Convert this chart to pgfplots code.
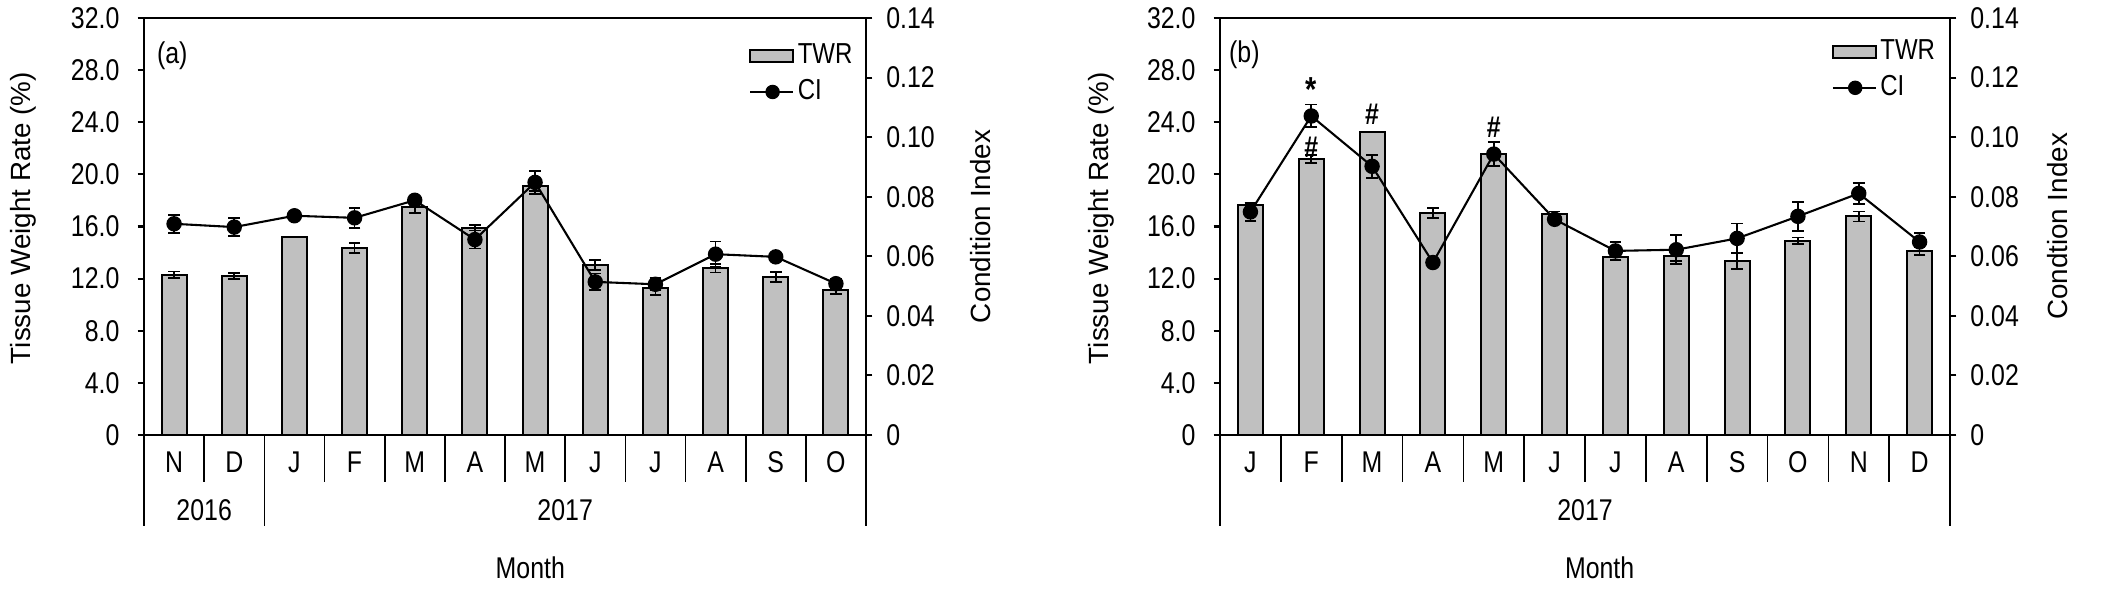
\documentclass[border=0pt]{standalone}
\usepackage{fontspec}
\setmainfont{Liberation Sans}[FakeStretch=0.83]
\newfontfamily\rotfont{Liberation Sans}
\usepackage{pgfplots}
\usepackage{pgfplotstable}
\pgfplotsset{compat=1.18}

\definecolor{barfill}{RGB}{192,192,192}
\newcommand{\fs}{\fontsize{10.8}{12}\selectfont}
\newcommand{\lfs}{\fontsize{10.4}{12}\selectfont}

\pgfplotstableread{
x twr te ci ce
0 12.30 0.25 0.0709 0.0030
1 12.20 0.25 0.0698 0.0030
2 15.20 0.00 0.0736 0.0015
3 14.36 0.38 0.0729 0.0033
4 17.46 0.40 0.0788 0.0012
5 15.90 0.20 0.0656 0.0030
6 19.12 0.40 0.0848 0.0039
7 13.06 0.38 0.0514 0.0028
8 11.26 0.50 0.0506 0.0020
9 12.80 0.32 0.0607 0.0043
10 12.11 0.38 0.0598 0.0012
11 11.16 0.33 0.0508 0.0015
}\dataA

\pgfplotstableread{
x twr te ci ce
0 17.64 0.20 0.0749 0.0030
1 21.17 0.30 0.1071 0.0038
2 23.22 0.00 0.0902 0.0039
3 17.02 0.38 0.0579 0.0000
4 21.53 0.30 0.0943 0.0041
5 16.95 0.20 0.0724 0.0010
6 13.67 0.28 0.0618 0.0030
7 13.75 0.40 0.0622 0.0049
8 13.34 0.60 0.0660 0.0050
9 14.90 0.25 0.0734 0.0049
10 16.77 0.38 0.0811 0.0036
11 14.10 0.28 0.0648 0.0030
}\dataB

\pgfplotsset{
  base/.style={
    scale only axis,
    height=150.12pt,
    xmin=-0.5, xmax=11.5, ymin=0,
    anchor=south west,
    clip=false,
    axis line style={line width=0.75pt},
    tick align=outside,
    major tick length=2.3pt,
    ytick style={line width=0.75pt, black},
    tick label style={font=\fs},
    label style={font=\fs},
  },
  leftax/.style={
    base,
    ymax=32,
    ytick={0,4,...,32},
    yticklabels={0,4.0,8.0,12.0,16.0,20.0,24.0,28.0,32.0},
    ytick pos=left,
    yticklabel style={xshift=-3.0pt},
    xtick={0,...,11},
    xtick pos=bottom,
    xtick style={draw=none},
    xticklabel style={anchor=center},
    xticklabel shift=7.6pt,
    ylabel style={anchor=center, font=\rotfont\fontsize{10}{12}\selectfont},
    xlabel style={anchor=center},
  },
  rightax/.style={
    base,
    ymax=0.14,
    axis y line*=right,
    axis x line=none,
    ytick={0,0.02,...,0.14},
    yticklabels={0,0.02,0.04,0.06,0.08,0.10,0.12,0.14},
    yticklabel style={xshift=1.5pt},
    ylabel style={anchor=center, font=\rotfont\fontsize{10}{12}\selectfont},
    legend style={draw=none, fill=none, inner sep=0pt, row sep=1.8pt,
      font=\lfs, anchor=north east,
      nodes={inner sep=1.2pt}},
    legend cell align=left,
  },
  twrbar/.style={ybar, bar width=9.0pt, fill=barfill, draw=black, line width=0.7pt,
    error bars/.cd, y dir=both, y explicit,
    error bar style={line width=0.6pt, black},
    error mark options={rotate=90, mark size=2.1pt, line width=0.6pt, black}},
  ciline/.style={black, line width=0.75pt, mark=*, mark size=2.4pt,
    mark options={fill=black},
    error bars/.cd, y dir=both, y explicit,
    error bar style={line width=0.6pt, black},
    error mark options={rotate=90, mark size=2.1pt, line width=0.6pt, black}},
  barleg/.style={legend image code/.code={\draw[fill=barfill, draw=black, line width=0.7pt] (0pt,-2.2pt) rectangle (15.5pt,2.2pt);}},
  lineleg/.style={legend image code/.code={\draw[black, line width=0.75pt] (0pt,0pt) -- (15.5pt,0pt); \fill[black] (8pt,0pt) circle (2.4pt);}},
}

\begin{document}
\begin{tikzpicture}
\path[use as bounding box] (0,0) rectangle (760.32pt,215.64pt);

% ---------------- panel (a) ----------------
\begin{axis}[leftax, at={(51.84pt,59.04pt)}, width=259.92pt,
  xticklabels={N,D,J,F,M,A,M,J,J,A,S,O},
  ylabel={Tissue Weight Rate (\%)},
  ylabel style={at={(axis description cs:-0.167,0.52)}},
  xlabel={Month},
  xlabel style={at={(axis description cs:0.535,0)}, yshift=-47.9pt},
  ]
  \addplot[twrbar] table[x=x, y=twr, y error=te] {\dataA};
  \draw[line width=0.6pt] (axis cs:-0.5,0) -- (axis cs:-0.5,-6.98)
    (axis cs:1.5,0) -- (axis cs:1.5,-6.98)
    (axis cs:11.5,0) -- (axis cs:11.5,-6.98)
    (axis cs:0.5,0) -- (axis cs:0.5,-3.6)
    (axis cs:2.5,0) -- (axis cs:2.5,-3.6)
    (axis cs:3.5,0) -- (axis cs:3.5,-3.6)
    (axis cs:4.5,0) -- (axis cs:4.5,-3.6)
    (axis cs:5.5,0) -- (axis cs:5.5,-3.6)
    (axis cs:6.5,0) -- (axis cs:6.5,-3.6)
    (axis cs:7.5,0) -- (axis cs:7.5,-3.6)
    (axis cs:8.5,0) -- (axis cs:8.5,-3.6)
    (axis cs:9.5,0) -- (axis cs:9.5,-3.6)
    (axis cs:10.5,0) -- (axis cs:10.5,-3.6);
  \node[font=\fs] at (axis cs:0.5,-5.76) {2016};
  \node[font=\fs] at (axis cs:6.5,-5.76) {2017};
  \node[font=\fs] at (axis cs:-0.03,29.1) {(a)};
\end{axis}
\begin{axis}[rightax, at={(51.84pt,59.04pt)}, width=259.92pt,
  ylabel={Condition Index},
  ylabel style={at={(axis description cs:1.158,0.5)}},
  legend style={at={(axis description cs:1,0.96)}, xshift=-3.5pt, yshift=-2pt},
  ]
  \addlegendimage{barleg}
  \addlegendentry{TWR}
  \addplot[forget plot, ciline] table[x=x, y=ci, y error=ce] {\dataA};
  \addlegendimage{lineleg}
  \addlegendentry{CI}
\end{axis}

% ---------------- panel (b) ----------------
\begin{axis}[leftax, at={(439.2pt,59.04pt)}, width=262.8pt,
  xticklabels={J,F,M,A,M,J,J,A,S,O,N,D},
  ylabel={Tissue Weight Rate (\%)},
  ylabel style={at={(axis description cs:-0.162,0.52)}},
  xlabel={Month},
  xlabel style={at={(axis description cs:0.52,0)}, yshift=-47.9pt},
  ]
  \addplot[twrbar] table[x=x, y=twr, y error=te] {\dataB};
  \draw[line width=0.6pt] (axis cs:-0.5,0) -- (axis cs:-0.5,-6.98)
    (axis cs:11.5,0) -- (axis cs:11.5,-6.98)
    (axis cs:0.5,0) -- (axis cs:0.5,-3.6)
    (axis cs:1.5,0) -- (axis cs:1.5,-3.6)
    (axis cs:2.5,0) -- (axis cs:2.5,-3.6)
    (axis cs:3.5,0) -- (axis cs:3.5,-3.6)
    (axis cs:4.5,0) -- (axis cs:4.5,-3.6)
    (axis cs:5.5,0) -- (axis cs:5.5,-3.6)
    (axis cs:6.5,0) -- (axis cs:6.5,-3.6)
    (axis cs:7.5,0) -- (axis cs:7.5,-3.6)
    (axis cs:8.5,0) -- (axis cs:8.5,-3.6)
    (axis cs:9.5,0) -- (axis cs:9.5,-3.6)
    (axis cs:10.5,0) -- (axis cs:10.5,-3.6);
  \node[font=\fs] at (axis cs:5.5,-5.76) {2017};
  \node[font=\fs] at (axis cs:-0.1,29.2) {(b)};
  \node[font=\bfseries\fs] at (axis cs:1,22.1) {\#};
  \node[font=\bfseries\fontsize{12.5}{12}\selectfont] at (axis cs:1,26.5) {*};
  \node[font=\bfseries\fs] at (axis cs:2,24.6) {\#};
  \node[font=\bfseries\fs] at (axis cs:4,23.65) {\#};
\end{axis}
\begin{axis}[rightax, at={(439.2pt,59.04pt)}, width=262.8pt,
  ylabel={Condtion Index},
  ylabel style={at={(axis description cs:1.148,0.5)}},
  legend style={at={(axis description cs:1,0.97)}, xshift=-4pt, yshift=-2pt},
  ]
  \addlegendimage{barleg}
  \addlegendentry{TWR}
  \addplot[forget plot, ciline] table[x=x, y=ci, y error=ce] {\dataB};
  \addlegendimage{lineleg}
  \addlegendentry{CI}
\end{axis}
\end{tikzpicture}
\end{document}
